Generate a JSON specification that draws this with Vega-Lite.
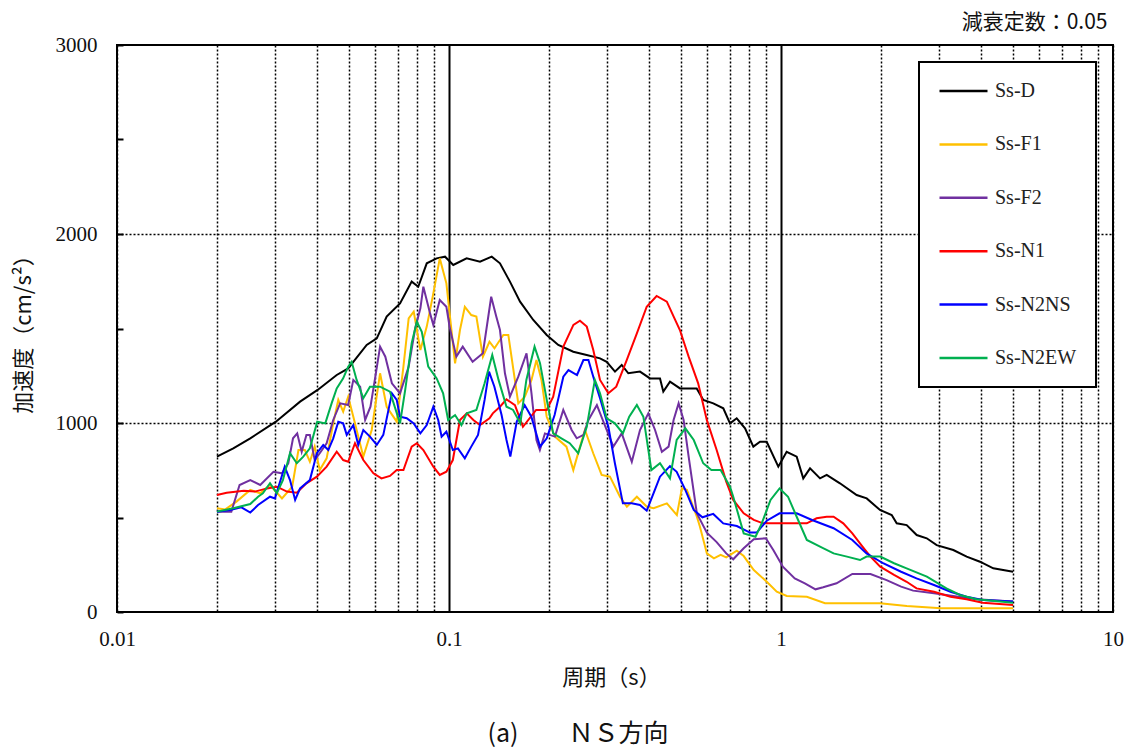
{
  "$schema": "https://vega.github.io/schema/vega-lite/v6.json",
  "autosize": {"type": "none"},
  "padding": {"left": 117, "top": 45, "right": 25, "bottom": 141},
  "width": 996,
  "height": 567,
  "background": "white",
  "title": {"text": "(a)　　ＮＳ方向", "orient": "bottom", "anchor": "middle", "frame": "group", "dx": -37, "offset": 34, "font": "Noto Sans CJK JP", "fontSize": 25, "fontWeight": "normal", "color": "#111"},
  "datasets": {
    "sd": [
      {"s":"Ss-D","T":0.02,"A":822},{"s":"Ss-D","T":0.0224,"A":866},{"s":"Ss-D","T":0.0252,"A":919},{"s":"Ss-D","T":0.0301,"A":1007},{"s":"Ss-D","T":0.0356,"A":1113},{"s":"Ss-D","T":0.0402,"A":1175},{"s":"Ss-D","T":0.0459,"A":1254},{"s":"Ss-D","T":0.0497,"A":1289},{"s":"Ss-D","T":0.0515,"A":1324},{"s":"Ss-D","T":0.0565,"A":1413},{"s":"Ss-D","T":0.0606,"A":1448},{"s":"Ss-D","T":0.0649,"A":1563},{"s":"Ss-D","T":0.0712,"A":1633},{"s":"Ss-D","T":0.0772,"A":1748},{"s":"Ss-D","T":0.0808,"A":1721},{"s":"Ss-D","T":0.0857,"A":1845},{"s":"Ss-D","T":0.0918,"A":1871},{"s":"Ss-D","T":0.0973,"A":1880},{"s":"Ss-D","T":0.103,"A":1836},{"s":"Ss-D","T":0.113,"A":1871},{"s":"Ss-D","T":0.124,"A":1853},{"s":"Ss-D","T":0.1345,"A":1880},{"s":"Ss-D","T":0.1424,"A":1845},{"s":"Ss-D","T":0.1526,"A":1748},{"s":"Ss-D","T":0.1637,"A":1642},{"s":"Ss-D","T":0.1794,"A":1545},{"s":"Ss-D","T":0.1969,"A":1466},{"s":"Ss-D","T":0.2134,"A":1413},{"s":"Ss-D","T":0.2368,"A":1377},{"s":"Ss-D","T":0.2598,"A":1360},{"s":"Ss-D","T":0.285,"A":1342},{"s":"Ss-D","T":0.2985,"A":1324},{"s":"Ss-D","T":0.3162,"A":1272},{"s":"Ss-D","T":0.3313,"A":1307},{"s":"Ss-D","T":0.3468,"A":1263},{"s":"Ss-D","T":0.3761,"A":1272},{"s":"Ss-D","T":0.4031,"A":1236},{"s":"Ss-D","T":0.4321,"A":1236},{"s":"Ss-D","T":0.4421,"A":1166},{"s":"Ss-D","T":0.4631,"A":1219},{"s":"Ss-D","T":0.4964,"A":1183},{"s":"Ss-D","T":0.52,"A":1183},{"s":"Ss-D","T":0.5573,"A":1183},{"s":"Ss-D","T":0.5834,"A":1122},{"s":"Ss-D","T":0.6253,"A":1104},{"s":"Ss-D","T":0.6702,"A":1078},{"s":"Ss-D","T":0.7021,"A":998},{"s":"Ss-D","T":0.7355,"A":1025},{"s":"Ss-D","T":0.7793,"A":972},{"s":"Ss-D","T":0.8254,"A":875},{"s":"Ss-D","T":0.8646,"A":901},{"s":"Ss-D","T":0.9056,"A":901},{"s":"Ss-D","T":0.9815,"A":769},{"s":"Ss-D","T":1.04,"A":848},{"s":"Ss-D","T":1.115,"A":822},{"s":"Ss-D","T":1.167,"A":707},{"s":"Ss-D","T":1.223,"A":760},{"s":"Ss-D","T":1.311,"A":707},{"s":"Ss-D","T":1.373,"A":725},{"s":"Ss-D","T":1.505,"A":681},{"s":"Ss-D","T":1.69,"A":619},{"s":"Ss-D","T":1.812,"A":601},{"s":"Ss-D","T":1.987,"A":540},{"s":"Ss-D","T":2.155,"A":513},{"s":"Ss-D","T":2.231,"A":469},{"s":"Ss-D","T":2.391,"A":460},{"s":"Ss-D","T":2.563,"A":407},{"s":"Ss-D","T":2.748,"A":390},{"s":"Ss-D","T":2.944,"A":354},{"s":"Ss-D","T":3.304,"A":328},{"s":"Ss-D","T":3.624,"A":293},{"s":"Ss-D","T":3.975,"A":266},{"s":"Ss-D","T":4.36,"A":231},{"s":"Ss-D","T":5.0,"A":213}
    ],
    "ss": [
      {"s":"Ss-F1","T":0.02,"A":549},{"s":"Ss-F1","T":0.0212,"A":543},{"s":"Ss-F1","T":0.0229,"A":584},{"s":"Ss-F1","T":0.0252,"A":646},{"s":"Ss-F1","T":0.027,"A":628},{"s":"Ss-F1","T":0.0289,"A":672},{"s":"Ss-F1","T":0.0314,"A":601},{"s":"Ss-F1","T":0.0337,"A":663},{"s":"Ss-F1","T":0.0352,"A":857},{"s":"Ss-F1","T":0.0368,"A":857},{"s":"Ss-F1","T":0.0381,"A":795},{"s":"Ss-F1","T":0.0394,"A":875},{"s":"Ss-F1","T":0.0408,"A":751},{"s":"Ss-F1","T":0.0428,"A":813},{"s":"Ss-F1","T":0.0448,"A":998},{"s":"Ss-F1","T":0.0464,"A":1122},{"s":"Ss-F1","T":0.048,"A":1060},{"s":"Ss-F1","T":0.0497,"A":1139},{"s":"Ss-F1","T":0.0515,"A":1033},{"s":"Ss-F1","T":0.0552,"A":822},{"s":"Ss-F1","T":0.0585,"A":963},{"s":"Ss-F1","T":0.062,"A":1263},{"s":"Ss-F1","T":0.0649,"A":1086},{"s":"Ss-F1","T":0.0696,"A":1007},{"s":"Ss-F1","T":0.0729,"A":1298},{"s":"Ss-F1","T":0.0756,"A":1554},{"s":"Ss-F1","T":0.0783,"A":1589},{"s":"Ss-F1","T":0.082,"A":1386},{"s":"Ss-F1","T":0.0857,"A":1510},{"s":"Ss-F1","T":0.0897,"A":1686},{"s":"Ss-F1","T":0.0938,"A":1871},{"s":"Ss-F1","T":0.0982,"A":1739},{"s":"Ss-F1","T":0.1043,"A":1316},{"s":"Ss-F1","T":0.1079,"A":1492},{"s":"Ss-F1","T":0.1116,"A":1615},{"s":"Ss-F1","T":0.1167,"A":1571},{"s":"Ss-F1","T":0.1209,"A":1563},{"s":"Ss-F1","T":0.1265,"A":1351},{"s":"Ss-F1","T":0.1324,"A":1430},{"s":"Ss-F1","T":0.1371,"A":1395},{"s":"Ss-F1","T":0.1424,"A":1439},{"s":"Ss-F1","T":0.1458,"A":1466},{"s":"Ss-F1","T":0.1509,"A":1466},{"s":"Ss-F1","T":0.1617,"A":1104},{"s":"Ss-F1","T":0.1692,"A":1139},{"s":"Ss-F1","T":0.1772,"A":1228},{"s":"Ss-F1","T":0.1834,"A":1333},{"s":"Ss-F1","T":0.1899,"A":1228},{"s":"Ss-F1","T":0.1969,"A":1033},{"s":"Ss-F1","T":0.2085,"A":928},{"s":"Ss-F1","T":0.2258,"A":875},{"s":"Ss-F1","T":0.2368,"A":751},{"s":"Ss-F1","T":0.2481,"A":875},{"s":"Ss-F1","T":0.2568,"A":963},{"s":"Ss-F1","T":0.2719,"A":840},{"s":"Ss-F1","T":0.2882,"A":725},{"s":"Ss-F1","T":0.3053,"A":716},{"s":"Ss-F1","T":0.3273,"A":610},{"s":"Ss-F1","T":0.3434,"A":557},{"s":"Ss-F1","T":0.368,"A":610},{"s":"Ss-F1","T":0.3945,"A":557},{"s":"Ss-F1","T":0.4133,"A":549},{"s":"Ss-F1","T":0.4531,"A":575},{"s":"Ss-F1","T":0.4857,"A":513},{"s":"Ss-F1","T":0.503,"A":654},{"s":"Ss-F1","T":0.5205,"A":646},{"s":"Ss-F1","T":0.5579,"A":504},{"s":"Ss-F1","T":0.57,"A":451},{"s":"Ss-F1","T":0.598,"A":310},{"s":"Ss-F1","T":0.628,"A":284},{"s":"Ss-F1","T":0.658,"A":302},{"s":"Ss-F1","T":0.684,"A":289},{"s":"Ss-F1","T":0.736,"A":324},{"s":"Ss-F1","T":0.772,"A":296},{"s":"Ss-F1","T":0.828,"A":222},{"s":"Ss-F1","T":0.906,"A":160},{"s":"Ss-F1","T":0.971,"A":107},{"s":"Ss-F1","T":1.041,"A":85},{"s":"Ss-F1","T":1.196,"A":81},{"s":"Ss-F1","T":1.357,"A":46},{"s":"Ss-F1","T":1.987,"A":46},{"s":"Ss-F1","T":2.393,"A":32},{"s":"Ss-F1","T":3.036,"A":20},{"s":"Ss-F1","T":5.0,"A":20},
      {"s":"Ss-F2","T":0.02,"A":531},{"s":"Ss-F2","T":0.0221,"A":531},{"s":"Ss-F2","T":0.0234,"A":672},{"s":"Ss-F2","T":0.0252,"A":698},{"s":"Ss-F2","T":0.027,"A":672},{"s":"Ss-F2","T":0.0296,"A":742},{"s":"Ss-F2","T":0.0314,"A":734},{"s":"Ss-F2","T":0.0328,"A":787},{"s":"Ss-F2","T":0.0339,"A":919},{"s":"Ss-F2","T":0.0349,"A":945},{"s":"Ss-F2","T":0.036,"A":848},{"s":"Ss-F2","T":0.0372,"A":937},{"s":"Ss-F2","T":0.0381,"A":937},{"s":"Ss-F2","T":0.0394,"A":804},{"s":"Ss-F2","T":0.0408,"A":840},{"s":"Ss-F2","T":0.0428,"A":893},{"s":"Ss-F2","T":0.0448,"A":1016},{"s":"Ss-F2","T":0.047,"A":1104},{"s":"Ss-F2","T":0.0497,"A":1095},{"s":"Ss-F2","T":0.0515,"A":1228},{"s":"Ss-F2","T":0.054,"A":1192},{"s":"Ss-F2","T":0.0559,"A":1016},{"s":"Ss-F2","T":0.058,"A":1086},{"s":"Ss-F2","T":0.06,"A":1245},{"s":"Ss-F2","T":0.062,"A":1404},{"s":"Ss-F2","T":0.0643,"A":1351},{"s":"Ss-F2","T":0.0673,"A":1210},{"s":"Ss-F2","T":0.0712,"A":1157},{"s":"Ss-F2","T":0.0756,"A":1298},{"s":"Ss-F2","T":0.0791,"A":1501},{"s":"Ss-F2","T":0.082,"A":1607},{"s":"Ss-F2","T":0.0837,"A":1721},{"s":"Ss-F2","T":0.0877,"A":1580},{"s":"Ss-F2","T":0.0897,"A":1519},{"s":"Ss-F2","T":0.0938,"A":1651},{"s":"Ss-F2","T":0.0982,"A":1615},{"s":"Ss-F2","T":0.1004,"A":1510},{"s":"Ss-F2","T":0.1052,"A":1351},{"s":"Ss-F2","T":0.11,"A":1404},{"s":"Ss-F2","T":0.1178,"A":1324},{"s":"Ss-F2","T":0.1265,"A":1369},{"s":"Ss-F2","T":0.134,"A":1668},{"s":"Ss-F2","T":0.1388,"A":1563},{"s":"Ss-F2","T":0.1424,"A":1492},{"s":"Ss-F2","T":0.1474,"A":1263},{"s":"Ss-F2","T":0.1526,"A":1139},{"s":"Ss-F2","T":0.1617,"A":1245},{"s":"Ss-F2","T":0.1712,"A":1369},{"s":"Ss-F2","T":0.1772,"A":1157},{"s":"Ss-F2","T":0.1834,"A":910},{"s":"Ss-F2","T":0.1878,"A":857},{"s":"Ss-F2","T":0.1945,"A":945},{"s":"Ss-F2","T":0.2085,"A":928},{"s":"Ss-F2","T":0.2209,"A":1069},{"s":"Ss-F2","T":0.2341,"A":963},{"s":"Ss-F2","T":0.2425,"A":919},{"s":"Ss-F2","T":0.2542,"A":937},{"s":"Ss-F2","T":0.2631,"A":1016},{"s":"Ss-F2","T":0.2789,"A":1095},{"s":"Ss-F2","T":0.2985,"A":963},{"s":"Ss-F2","T":0.3127,"A":875},{"s":"Ss-F2","T":0.3313,"A":945},{"s":"Ss-F2","T":0.3553,"A":795},{"s":"Ss-F2","T":0.3761,"A":963},{"s":"Ss-F2","T":0.3984,"A":1051},{"s":"Ss-F2","T":0.4175,"A":963},{"s":"Ss-F2","T":0.4377,"A":848},{"s":"Ss-F2","T":0.4586,"A":875},{"s":"Ss-F2","T":0.4748,"A":1016},{"s":"Ss-F2","T":0.4916,"A":1104},{"s":"Ss-F2","T":0.5089,"A":1016},{"s":"Ss-F2","T":0.527,"A":822},{"s":"Ss-F2","T":0.5579,"A":522},{"s":"Ss-F2","T":0.598,"A":420},{"s":"Ss-F2","T":0.64,"A":370},{"s":"Ss-F2","T":0.684,"A":310},{"s":"Ss-F2","T":0.718,"A":279},{"s":"Ss-F2","T":0.772,"A":337},{"s":"Ss-F2","T":0.828,"A":385},{"s":"Ss-F2","T":0.9,"A":390},{"s":"Ss-F2","T":0.948,"A":328},{"s":"Ss-F2","T":1.013,"A":240},{"s":"Ss-F2","T":1.1,"A":178},{"s":"Ss-F2","T":1.18,"A":152},{"s":"Ss-F2","T":1.27,"A":120},{"s":"Ss-F2","T":1.34,"A":131},{"s":"Ss-F2","T":1.47,"A":152},{"s":"Ss-F2","T":1.64,"A":201},{"s":"Ss-F2","T":1.86,"A":201},{"s":"Ss-F2","T":2.08,"A":169},{"s":"Ss-F2","T":2.3,"A":134},{"s":"Ss-F2","T":2.5,"A":113},{"s":"Ss-F2","T":2.89,"A":99},{"s":"Ss-F2","T":3.3,"A":85},{"s":"Ss-F2","T":3.88,"A":67},{"s":"Ss-F2","T":5.0,"A":55},
      {"s":"Ss-N1","T":0.02,"A":619},{"s":"Ss-N1","T":0.0214,"A":631},{"s":"Ss-N1","T":0.0241,"A":642},{"s":"Ss-N1","T":0.026,"A":637},{"s":"Ss-N1","T":0.0283,"A":654},{"s":"Ss-N1","T":0.0303,"A":663},{"s":"Ss-N1","T":0.0325,"A":637},{"s":"Ss-N1","T":0.0348,"A":631},{"s":"Ss-N1","T":0.0372,"A":681},{"s":"Ss-N1","T":0.04,"A":716},{"s":"Ss-N1","T":0.0428,"A":769},{"s":"Ss-N1","T":0.0459,"A":848},{"s":"Ss-N1","T":0.048,"A":804},{"s":"Ss-N1","T":0.0497,"A":795},{"s":"Ss-N1","T":0.0521,"A":893},{"s":"Ss-N1","T":0.0552,"A":804},{"s":"Ss-N1","T":0.0592,"A":734},{"s":"Ss-N1","T":0.0626,"A":707},{"s":"Ss-N1","T":0.0664,"A":720},{"s":"Ss-N1","T":0.0696,"A":751},{"s":"Ss-N1","T":0.0729,"A":751},{"s":"Ss-N1","T":0.0772,"A":875},{"s":"Ss-N1","T":0.08,"A":893},{"s":"Ss-N1","T":0.0837,"A":857},{"s":"Ss-N1","T":0.0897,"A":769},{"s":"Ss-N1","T":0.0938,"A":725},{"s":"Ss-N1","T":0.0982,"A":742},{"s":"Ss-N1","T":0.1027,"A":804},{"s":"Ss-N1","T":0.1079,"A":1016},{"s":"Ss-N1","T":0.1131,"A":1051},{"s":"Ss-N1","T":0.1184,"A":1016},{"s":"Ss-N1","T":0.124,"A":989},{"s":"Ss-N1","T":0.1324,"A":1025},{"s":"Ss-N1","T":0.1355,"A":1051},{"s":"Ss-N1","T":0.1424,"A":1086},{"s":"Ss-N1","T":0.149,"A":1125},{"s":"Ss-N1","T":0.158,"A":1095},{"s":"Ss-N1","T":0.167,"A":980},{"s":"Ss-N1","T":0.183,"A":1069},{"s":"Ss-N1","T":0.197,"A":1069},{"s":"Ss-N1","T":0.206,"A":1139},{"s":"Ss-N1","T":0.221,"A":1404},{"s":"Ss-N1","T":0.237,"A":1519},{"s":"Ss-N1","T":0.248,"A":1541},{"s":"Ss-N1","T":0.26,"A":1510},{"s":"Ss-N1","T":0.272,"A":1386},{"s":"Ss-N1","T":0.285,"A":1228},{"s":"Ss-N1","T":0.302,"A":1157},{"s":"Ss-N1","T":0.319,"A":1192},{"s":"Ss-N1","T":0.343,"A":1333},{"s":"Ss-N1","T":0.368,"A":1474},{"s":"Ss-N1","T":0.394,"A":1615},{"s":"Ss-N1","T":0.422,"A":1672},{"s":"Ss-N1","T":0.453,"A":1642},{"s":"Ss-N1","T":0.475,"A":1563},{"s":"Ss-N1","T":0.496,"A":1492},{"s":"Ss-N1","T":0.527,"A":1351},{"s":"Ss-N1","T":0.563,"A":1210},{"s":"Ss-N1","T":0.598,"A":1015},{"s":"Ss-N1","T":0.64,"A":857},{"s":"Ss-N1","T":0.684,"A":690},{"s":"Ss-N1","T":0.718,"A":593},{"s":"Ss-N1","T":0.772,"A":522},{"s":"Ss-N1","T":0.828,"A":487},{"s":"Ss-N1","T":0.883,"A":469},{"s":"Ss-N1","T":1.196,"A":469},{"s":"Ss-N1","T":1.28,"A":496},{"s":"Ss-N1","T":1.373,"A":504},{"s":"Ss-N1","T":1.44,"A":504},{"s":"Ss-N1","T":1.54,"A":469},{"s":"Ss-N1","T":1.64,"A":416},{"s":"Ss-N1","T":1.76,"A":346},{"s":"Ss-N1","T":1.86,"A":293},{"s":"Ss-N1","T":1.99,"A":240},{"s":"Ss-N1","T":2.19,"A":196},{"s":"Ss-N1","T":2.39,"A":160},{"s":"Ss-N1","T":2.56,"A":125},{"s":"Ss-N1","T":2.89,"A":107},{"s":"Ss-N1","T":3.24,"A":81},{"s":"Ss-N1","T":3.62,"A":67},{"s":"Ss-N1","T":4.05,"A":49},{"s":"Ss-N1","T":5.0,"A":37},
      {"s":"Ss-N2NS","T":0.02,"A":531},{"s":"Ss-N2NS","T":0.0219,"A":540},{"s":"Ss-N2NS","T":0.0237,"A":554},{"s":"Ss-N2NS","T":0.0252,"A":526},{"s":"Ss-N2NS","T":0.0266,"A":566},{"s":"Ss-N2NS","T":0.0289,"A":610},{"s":"Ss-N2NS","T":0.0299,"A":601},{"s":"Ss-N2NS","T":0.032,"A":769},{"s":"Ss-N2NS","T":0.0332,"A":698},{"s":"Ss-N2NS","T":0.0344,"A":593},{"s":"Ss-N2NS","T":0.0356,"A":654},{"s":"Ss-N2NS","T":0.0381,"A":698},{"s":"Ss-N2NS","T":0.04,"A":840},{"s":"Ss-N2NS","T":0.0418,"A":884},{"s":"Ss-N2NS","T":0.0433,"A":857},{"s":"Ss-N2NS","T":0.0448,"A":919},{"s":"Ss-N2NS","T":0.0464,"A":1007},{"s":"Ss-N2NS","T":0.048,"A":998},{"s":"Ss-N2NS","T":0.0492,"A":937},{"s":"Ss-N2NS","T":0.0515,"A":989},{"s":"Ss-N2NS","T":0.0533,"A":884},{"s":"Ss-N2NS","T":0.0552,"A":963},{"s":"Ss-N2NS","T":0.0578,"A":928},{"s":"Ss-N2NS","T":0.0606,"A":884},{"s":"Ss-N2NS","T":0.0634,"A":937},{"s":"Ss-N2NS","T":0.0673,"A":1157},{"s":"Ss-N2NS","T":0.0696,"A":1122},{"s":"Ss-N2NS","T":0.0712,"A":1033},{"s":"Ss-N2NS","T":0.0746,"A":1025},{"s":"Ss-N2NS","T":0.0783,"A":998},{"s":"Ss-N2NS","T":0.082,"A":945},{"s":"Ss-N2NS","T":0.0857,"A":989},{"s":"Ss-N2NS","T":0.0897,"A":1086},{"s":"Ss-N2NS","T":0.0928,"A":1016},{"s":"Ss-N2NS","T":0.095,"A":928},{"s":"Ss-N2NS","T":0.0982,"A":954},{"s":"Ss-N2NS","T":0.1027,"A":857},{"s":"Ss-N2NS","T":0.1064,"A":866},{"s":"Ss-N2NS","T":0.1116,"A":813},{"s":"Ss-N2NS","T":0.1167,"A":875},{"s":"Ss-N2NS","T":0.1223,"A":937},{"s":"Ss-N2NS","T":0.128,"A":1122},{"s":"Ss-N2NS","T":0.132,"A":1272},{"s":"Ss-N2NS","T":0.137,"A":1192},{"s":"Ss-N2NS","T":0.144,"A":1042},{"s":"Ss-N2NS","T":0.149,"A":910},{"s":"Ss-N2NS","T":0.153,"A":822},{"s":"Ss-N2NS","T":0.16,"A":1007},{"s":"Ss-N2NS","T":0.169,"A":1095},{"s":"Ss-N2NS","T":0.177,"A":1033},{"s":"Ss-N2NS","T":0.188,"A":875},{"s":"Ss-N2NS","T":0.197,"A":919},{"s":"Ss-N2NS","T":0.208,"A":1042},{"s":"Ss-N2NS","T":0.221,"A":1245},{"s":"Ss-N2NS","T":0.229,"A":1280},{"s":"Ss-N2NS","T":0.243,"A":1254},{"s":"Ss-N2NS","T":0.254,"A":1333},{"s":"Ss-N2NS","T":0.263,"A":1333},{"s":"Ss-N2NS","T":0.272,"A":1245},{"s":"Ss-N2NS","T":0.285,"A":1131},{"s":"Ss-N2NS","T":0.302,"A":980},{"s":"Ss-N2NS","T":0.316,"A":787},{"s":"Ss-N2NS","T":0.334,"A":575},{"s":"Ss-N2NS","T":0.355,"A":575},{"s":"Ss-N2NS","T":0.376,"A":566},{"s":"Ss-N2NS","T":0.394,"A":536},{"s":"Ss-N2NS","T":0.413,"A":628},{"s":"Ss-N2NS","T":0.432,"A":716},{"s":"Ss-N2NS","T":0.463,"A":772},{"s":"Ss-N2NS","T":0.485,"A":742},{"s":"Ss-N2NS","T":0.515,"A":646},{"s":"Ss-N2NS","T":0.546,"A":540},{"s":"Ss-N2NS","T":0.58,"A":501},{"s":"Ss-N2NS","T":0.625,"A":519},{"s":"Ss-N2NS","T":0.67,"A":469},{"s":"Ss-N2NS","T":0.736,"A":455},{"s":"Ss-N2NS","T":0.806,"A":420},{"s":"Ss-N2NS","T":0.845,"A":420},{"s":"Ss-N2NS","T":0.906,"A":483},{"s":"Ss-N2NS","T":0.99,"A":522},{"s":"Ss-N2NS","T":1.115,"A":522},{"s":"Ss-N2NS","T":1.24,"A":487},{"s":"Ss-N2NS","T":1.44,"A":443},{"s":"Ss-N2NS","T":1.64,"A":381},{"s":"Ss-N2NS","T":1.81,"A":310},{"s":"Ss-N2NS","T":2.03,"A":258},{"s":"Ss-N2NS","T":2.3,"A":213},{"s":"Ss-N2NS","T":2.56,"A":178},{"s":"Ss-N2NS","T":2.89,"A":143},{"s":"Ss-N2NS","T":3.24,"A":107},{"s":"Ss-N2NS","T":3.62,"A":81},{"s":"Ss-N2NS","T":4.05,"A":63},{"s":"Ss-N2NS","T":5.0,"A":55},
      {"s":"Ss-N2EW","T":0.02,"A":531},{"s":"Ss-N2EW","T":0.0224,"A":549},{"s":"Ss-N2EW","T":0.0252,"A":571},{"s":"Ss-N2EW","T":0.0266,"A":610},{"s":"Ss-N2EW","T":0.0275,"A":628},{"s":"Ss-N2EW","T":0.0289,"A":681},{"s":"Ss-N2EW","T":0.0303,"A":628},{"s":"Ss-N2EW","T":0.0316,"A":698},{"s":"Ss-N2EW","T":0.0332,"A":840},{"s":"Ss-N2EW","T":0.0348,"A":787},{"s":"Ss-N2EW","T":0.0364,"A":822},{"s":"Ss-N2EW","T":0.0381,"A":866},{"s":"Ss-N2EW","T":0.0401,"A":1007},{"s":"Ss-N2EW","T":0.0424,"A":998},{"s":"Ss-N2EW","T":0.0443,"A":1104},{"s":"Ss-N2EW","T":0.0459,"A":1183},{"s":"Ss-N2EW","T":0.048,"A":1236},{"s":"Ss-N2EW","T":0.0497,"A":1298},{"s":"Ss-N2EW","T":0.0509,"A":1324},{"s":"Ss-N2EW","T":0.0527,"A":1228},{"s":"Ss-N2EW","T":0.0552,"A":1131},{"s":"Ss-N2EW","T":0.0578,"A":1192},{"s":"Ss-N2EW","T":0.062,"A":1192},{"s":"Ss-N2EW","T":0.0664,"A":1166},{"s":"Ss-N2EW","T":0.0712,"A":998},{"s":"Ss-N2EW","T":0.0738,"A":1175},{"s":"Ss-N2EW","T":0.0772,"A":1422},{"s":"Ss-N2EW","T":0.08,"A":1536},{"s":"Ss-N2EW","T":0.0828,"A":1483},{"s":"Ss-N2EW","T":0.0866,"A":1298},{"s":"Ss-N2EW","T":0.0918,"A":1236},{"s":"Ss-N2EW","T":0.096,"A":1157},{"s":"Ss-N2EW","T":0.0994,"A":1016},{"s":"Ss-N2EW","T":0.1043,"A":1042},{"s":"Ss-N2EW","T":0.109,"A":989},{"s":"Ss-N2EW","T":0.1131,"A":1051},{"s":"Ss-N2EW","T":0.1209,"A":1069},{"s":"Ss-N2EW","T":0.128,"A":1210},{"s":"Ss-N2EW","T":0.135,"A":1360},{"s":"Ss-N2EW","T":0.141,"A":1228},{"s":"Ss-N2EW","T":0.149,"A":1086},{"s":"Ss-N2EW","T":0.156,"A":1069},{"s":"Ss-N2EW","T":0.164,"A":998},{"s":"Ss-N2EW","T":0.171,"A":1228},{"s":"Ss-N2EW","T":0.181,"A":1404},{"s":"Ss-N2EW","T":0.188,"A":1316},{"s":"Ss-N2EW","T":0.197,"A":1122},{"s":"Ss-N2EW","T":0.206,"A":945},{"s":"Ss-N2EW","T":0.218,"A":919},{"s":"Ss-N2EW","T":0.231,"A":893},{"s":"Ss-N2EW","T":0.245,"A":840},{"s":"Ss-N2EW","T":0.26,"A":980},{"s":"Ss-N2EW","T":0.275,"A":1228},{"s":"Ss-N2EW","T":0.285,"A":1157},{"s":"Ss-N2EW","T":0.2985,"A":1025},{"s":"Ss-N2EW","T":0.316,"A":998},{"s":"Ss-N2EW","T":0.334,"A":945},{"s":"Ss-N2EW","T":0.349,"A":1033},{"s":"Ss-N2EW","T":0.368,"A":1095},{"s":"Ss-N2EW","T":0.385,"A":1033},{"s":"Ss-N2EW","T":0.407,"A":751},{"s":"Ss-N2EW","T":0.432,"A":787},{"s":"Ss-N2EW","T":0.463,"A":707},{"s":"Ss-N2EW","T":0.485,"A":910},{"s":"Ss-N2EW","T":0.515,"A":972},{"s":"Ss-N2EW","T":0.546,"A":910},{"s":"Ss-N2EW","T":0.583,"A":787},{"s":"Ss-N2EW","T":0.617,"A":751},{"s":"Ss-N2EW","T":0.658,"A":751},{"s":"Ss-N2EW","T":0.702,"A":663},{"s":"Ss-N2EW","T":0.718,"A":610},{"s":"Ss-N2EW","T":0.772,"A":416},{"s":"Ss-N2EW","T":0.838,"A":398},{"s":"Ss-N2EW","T":0.875,"A":469},{"s":"Ss-N2EW","T":0.93,"A":593},{"s":"Ss-N2EW","T":0.99,"A":654},{"s":"Ss-N2EW","T":1.05,"A":610},{"s":"Ss-N2EW","T":1.115,"A":504},{"s":"Ss-N2EW","T":1.196,"A":381},{"s":"Ss-N2EW","T":1.311,"A":346},{"s":"Ss-N2EW","T":1.44,"A":310},{"s":"Ss-N2EW","T":1.58,"A":293},{"s":"Ss-N2EW","T":1.73,"A":275},{"s":"Ss-N2EW","T":1.81,"A":293},{"s":"Ss-N2EW","T":1.99,"A":293},{"s":"Ss-N2EW","T":2.19,"A":258},{"s":"Ss-N2EW","T":2.39,"A":231},{"s":"Ss-N2EW","T":2.75,"A":187},{"s":"Ss-N2EW","T":3.15,"A":125},{"s":"Ss-N2EW","T":3.46,"A":90},{"s":"Ss-N2EW","T":3.88,"A":67},{"s":"Ss-N2EW","T":5.0,"A":49}
    ]
  },
  "resolve": {"axis": {"x": "independent"}},
  "layer": [
    {
      "data": {"name": "sd"},
      "mark": {"type": "line", "strokeWidth": 2, "clip": true},
      "encoding": {
        "x": {
          "field": "T", "type": "quantitative",
          "scale": {"type": "log", "domain": [0.01, 10], "nice": false},
          "axis": {
            "orient": "bottom",
            "values": [0.01,0.02,0.03,0.04,0.05,0.06,0.07,0.08,0.09,0.1,0.2,0.3,0.4,0.5,0.6,0.7,0.8,0.9,1,2,3,4,5,6,7,8,9,10],
            "labelExpr": "datum.value == 0.01 ? '0.01' : datum.value == 0.1 ? '0.1' : datum.value == 1 ? '1' : datum.value == 10 ? '10' : ''",
            "labelFlush": false, "labelOverlap": false, "labelBound": false,
            "labelFont": "Liberation Serif", "labelFontSize": 21, "labelColor": "#111", "labelPadding": 16,
            "ticks": false, "domain": false,
            "grid": true, "gridColor": "black",
            "gridDash": {"condition": {"test": "datum.value == 0.1 || datum.value == 1", "value": []}, "value": [2, 2]},
            "gridWidth": {"condition": {"test": "datum.value == 0.1 || datum.value == 1", "value": 2}, "value": 1.5},
            "title": "周期（s）", "titleFont": "Noto Sans CJK JP", "titleFontSize": 22, "titleFontWeight": "normal", "titleColor": "#111", "titlePadding": 18, "titleX": 494
          }
        },
        "y": {
          "field": "A", "type": "quantitative",
          "scale": {"domain": [0, 3000], "nice": false},
          "axis": {
            "values": [0,500,1000,1500,2000,2500,3000],
            "labelExpr": "datum.value % 1000 == 0 ? '' + datum.value : ''",
            "labelFont": "Liberation Serif", "labelFontSize": 21, "labelColor": "#111", "labelPadding": 26,
            "ticks": true, "tickSize": -6, "tickColor": "black", "tickWidth": 2,
            "domain": false,
            "grid": true, "gridColor": "black", "gridDash": [2, 2], "gridWidth": 1.5,
            "gridOpacity": {"condition": {"test": "datum.value == 1000 || datum.value == 2000", "value": 1}, "value": 0},
            "title": "加速度（cm/s²）", "titleFont": "Noto Sans CJK JP", "titleFontSize": 22, "titleFontWeight": "normal", "titleColor": "#111", "titlePadding": 20
          }
        },
        "color": {
          "field": "s", "type": "nominal",
          "scale": {"domain": ["Ss-D","Ss-F1","Ss-F2","Ss-N1","Ss-N2NS","Ss-N2EW"], "range": ["#000000","#FFC000","#7030A0","#FF0000","#0000FF","#00B050"]},
          "legend": {"title": null, "orient": "top-right", "offset": 17}
        }
      }
    },
    {
      "data": {"name": "ss"},
      "mark": {"type": "line", "strokeWidth": 2, "clip": true},
      "encoding": {
        "x": {
          "field": "T", "type": "quantitative",
          "scale": {"type": "log", "domain": [0.01, 10], "nice": false},
          "axis": {
            "orient": "top", "labels": false, "ticks": false, "grid": false, "domain": false,
            "title": "減衰定数：0.05", "titleAnchor": "end", "titleX": 990, "titleAlign": "right", "titleFont": "Noto Sans CJK JP", "titleFontSize": 21, "titleFontWeight": "normal", "titleColor": "#111", "titlePadding": 13
          }
        },
        "y": {"field": "A", "type": "quantitative"},
        "color": {
          "field": "s", "type": "nominal",
          "legend": {"title": null, "orient": "top-right", "offset": 17}
        }
      }
    }
  ],
  "config": {
    "view": {"stroke": "black", "strokeWidth": 2},
    "legend": {
      "symbolType": "stroke", "symbolSize": 2304, "symbolStrokeWidth": 2.5,
      "labelFont": "Liberation Serif", "labelFontSize": 20, "labelColor": "#222", "labelOffset": 6,
      "padding": 19, "clipHeight": 20, "rowPadding": 33.4,
      "strokeColor": "black", "strokeWidth": 2, "fillColor": "white"
    }
  }
}
